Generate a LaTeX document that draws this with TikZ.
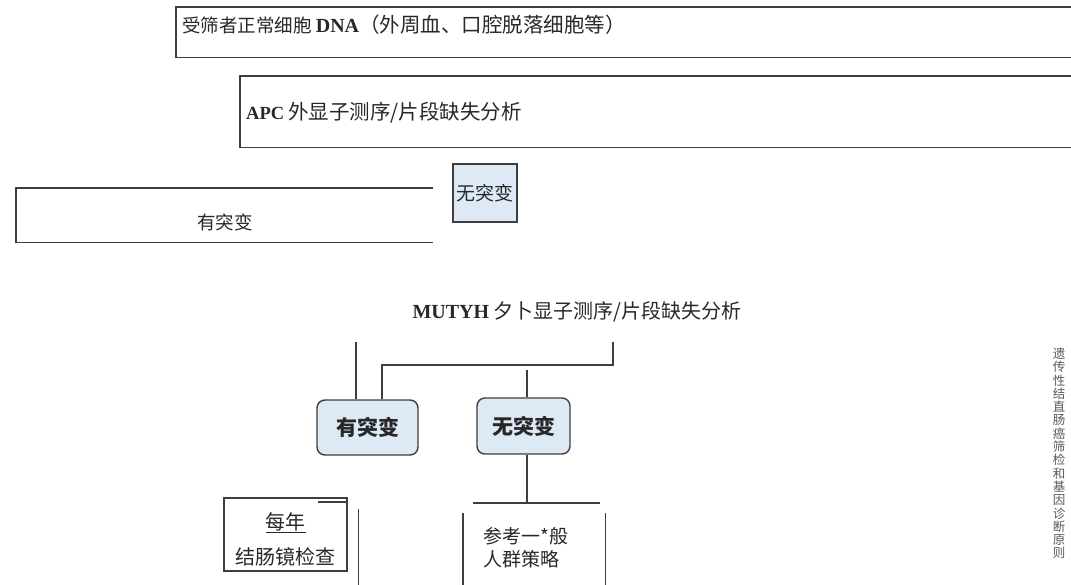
\documentclass[tikz,border=0pt]{standalone}
\usepackage{fontspec}
\setmainfont{Liberation Serif}
\newfontfamily\cjk{Noto Sans CJK SC}
\usetikzlibrary{positioning,calc}
\definecolor{boxblue}{RGB}{221,234,246}
\definecolor{linegray}{RGB}{62,62,62}
\definecolor{textgray}{RGB}{40,40,40}
\newcommand{\zhsize}[2]{\cjk\fontsize{#1}{#2}\selectfont}

\begin{document}
\begin{tikzpicture}[
  x=1pt, y=-1pt,
  every node/.style={inner sep=0pt, text=textgray},
  frame/.style={anchor=north west, minimum width=#1},
  line/.style={draw=linegray, line width=1.3pt},
  txt/.style={font=\zhsize{18.5}{22}},
  flag/.style={draw=linegray, line width=1.3pt, fill=boxblue,
               minimum width=64pt, minimum height=58pt, font=\zhsize{19}{22}},
  result/.style={draw=linegray, line width=1.4pt, fill=boxblue, rounded corners=8pt,
                 font=\zhsize{21}{24}\bfseries}
]
\useasboundingbox[fill=white] (0,0) rectangle (1071,584);

% DNA sample
\node[frame=895pt, minimum height=50pt] (dna) at (176,7) {};
\draw[line] (dna.north east) -- (dna.north west) -- (dna.south west) -- (dna.south east);
\node[txt, anchor=west] (dnatext) at (182,25)
  {受筛者正常细胞 {\rmfamily\bfseries\fontsize{20}{22}\selectfont DNA}{\fontsize{20.5}{22}\selectfont（外周血、口腔脱落细胞等）}};

% APC analysis
\node[frame=831pt, minimum height=71pt] (apc) at (240,76) {};
\draw[line] (apc.north east) -- (apc.north west) -- (apc.south west) -- (apc.south east);
\node[txt, anchor=west] (apctext) at (246,113)
  {{\rmfamily\bfseries APC} {\fontsize{20.5}{22}\selectfont 外显子测序/片段缺失分析}};

% APC results
\node[frame=417pt, minimum height=54pt] (apcpos) at (16,188) {};
\draw[line] (apcpos.north east) -- (apcpos.north west) -- (apcpos.south west) -- (apcpos.south east);
\node[font=\zhsize{18.5}{22}] (apcpostext) at (225,222) {有突变};
\node[flag] (apcneg) at (485,193) {无突变};

% MUTYH analysis
\node[font=\zhsize{20}{24}] (mutyh) at (577,312)
  {{\rmfamily\bfseries MUTYH} 夕卜显子测序/片段缺失分析};
\coordinate (mutyhL) at (356,342);
\coordinate (mutyhR) at (613,342);
\coordinate (split) at (382,365);
\coordinate (mid) at (527,370);

\node[result, minimum width=101pt, minimum height=55pt] (mutpos) at (367.5,427.5) {有突变};
\node[result, minimum width=93pt, minimum height=56pt] (mutneg) at (523.5,426) {无突变};

\draw[line] (mutyhL) -- (mutyhL |- mutpos.north);
\draw[line] (mutyhR) |- (split) -- (split |- mutpos.north);
\draw[line] (mid) -- (mid |- mutneg.north);

% follow-up
\node[draw=linegray, line width=1.3pt, minimum width=123pt, minimum height=73pt,
      align=center, font=\zhsize{20}{35}] (colono) at (285.5,534.5)
  {\rule{0pt}{27pt}\underline{每年}\\结肠镜检查};
\draw[line, line width=2pt] ($(colono.north east)+(-30,5)$) -- ($(colono.north east)+(0,5)$);
\draw[line] ($(colono.north east)+(11,12)$) -- ($(colono.south east)+(11,20)$);

\node[frame=142pt, minimum height=90pt] (gframe) at (463,503) {};
\node[align=left, anchor=west, font=\zhsize{19}{23}] (general) at (483,547.5)
  {参考一*般\\人群策略};
\draw[line] (mutneg.south -| mid) -- (mid |- gframe.north);
\draw[line] ($(gframe.north west)+(10,0)$) -- ($(gframe.north east)+(-5,0)$);
\draw[line] ($(gframe.north west)+(0,10)$) -- (gframe.south west);
\draw[line] ($(gframe.north east)+(0,10)$) -- (gframe.south east);

% side title
\node[align=center, text=black!65, font=\zhsize{12.5}{13.3}] (title) at (1059,453.5)
  {遗\\传\\性\\结\\直\\肠\\癌\\筛\\检\\和\\基\\因\\诊\\断\\原\\则};
\end{tikzpicture}
\end{document}
